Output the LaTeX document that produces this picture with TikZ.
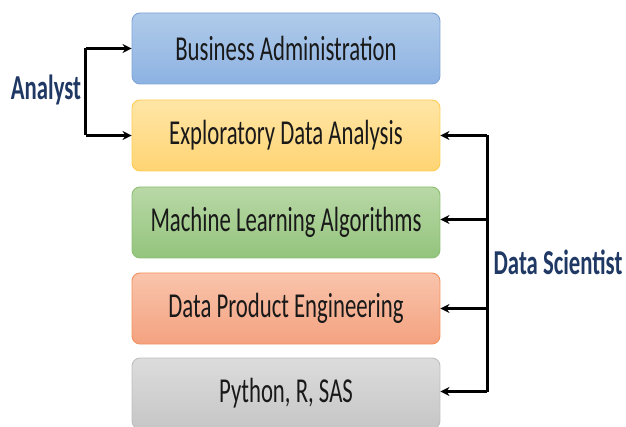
\documentclass[tikz,border=0pt]{standalone}
\usepackage{fontspec}
\setmainfont{Carlito}
\usepackage{graphicx}
\usetikzlibrary{arrows.meta,calc}
\definecolor{navy}{HTML}{1F3864}
\definecolor{b1t}{HTML}{B0CBEA}\definecolor{b1b}{HTML}{8DB2E2}\definecolor{b1d}{HTML}{7EA3D6}
\definecolor{b2t}{HTML}{FFE6A6}\definecolor{b2b}{HTML}{FFD473}\definecolor{b2d}{HTML}{FFCC55}
\definecolor{b3t}{HTML}{B9D8A6}\definecolor{b3b}{HTML}{93C47D}\definecolor{b3d}{HTML}{8BBE72}
\definecolor{b4t}{HTML}{F9C4AC}\definecolor{b4b}{HTML}{F4A280}\definecolor{b4d}{HTML}{F2915E}
\definecolor{b5t}{HTML}{DCDCDC}\definecolor{b5b}{HTML}{C6C6C6}\definecolor{b5d}{HTML}{BEBEBE}
\tikzset{
  box/.style={rectangle, rounded corners=8pt, minimum width=308pt, minimum height=71pt,
    line width=0.9pt, inner sep=0pt, font=\fontsize{35}{38}\selectfont, text=black!90},
  role/.style={font=\fontsize{35}{38}\selectfont\bfseries, text=navy, inner sep=0pt},
  conn/.style={line width=2.3pt, black},
  tip/.style={conn, -{Stealth[length=9pt,width=9pt]}},
}
\newcommand{\sq}[1]{\scalebox{0.65}[1]{#1}}
\begin{document}
\begin{tikzpicture}[x=1pt,y=-1pt]
\useasboundingbox (0,0) rectangle (626,427);
\node[box, draw=b1d, top color=b1t, bottom color=b1b] (b1) at (286,48.5) {\sq{Business Administration}};
\node[box, draw=b2d, top color=b2t, bottom color=b2b] (b2) at (286,135.5) {\sq{Exploratory Data Analysis}};
\node[box, draw=b3d, top color=b3t, bottom color=b3b] (b3) at (286,222.5) {\sq{Machine Learning Algorithms}};
\node[box, draw=b4d, top color=b4t, bottom color=b4b] (b4) at (286,308.5) {\sq{Data Product Engineering}};
\node[box, draw=b5d, top color=b5t, bottom color=b5b] (b5) at (286,393.5) {\sq{Python, R, SAS}};
\node[role] (analyst) at (46,90) {\sq{Analyst}};
\node[role] (ds) at (558,262) {\sq{Data Scientist}};
% Analyst bracket
\coordinate (a1) at ($(b1.west)+(-46,0)$);
\coordinate (a2) at ($(b2.west)+(-46,0)$);
\draw[conn] (a1) -- (a2);
\draw[tip] (a1) -- (b1.west);
\draw[tip] (a2) -- (b2.west);
% Data Scientist bracket
\coordinate (d2) at ($(b2.east)+(47,0)$);
\coordinate (d3) at ($(b3.east)+(47,-3)$);
\coordinate (d4) at ($(b4.east)+(47,0)$);
\coordinate (d5) at ($(b5.east)+(47,-2)$);
\draw[conn] (d2) -- (d5);
\draw[tip] (d2) -- (b2.east);
\draw[tip] (d3) -- (b3.east |- d3);
\draw[tip] (d4) -- (b4.east);
\draw[tip] (d5) -- (b5.east |- d5);
\end{tikzpicture}
\end{document}
